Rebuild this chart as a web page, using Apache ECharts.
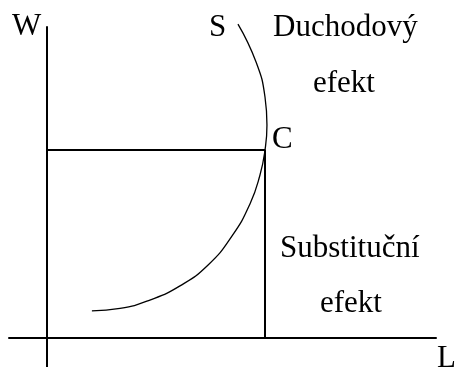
<!DOCTYPE html>
<html>
<head>
<meta charset="utf-8">
<script src="https://cdn.jsdelivr.net/npm/echarts@6/dist/echarts.min.js"></script>
<style>
  html, body { margin: 0; padding: 0; background: #fff; }
  #chart { width: 456px; height: 367px; }
</style>
</head>
<body>
<div id="chart"></div>
<script>
// Nabídka práce S (zpětně zakřivená) – body
const supplyL = [20.6, 33.5, 47.2, 61.0, 73.9, 84.9, 93.1, 97.7, 100, 100.9, 100, 95.9, 87.6];
const supplyW = [14.4, 15.7, 20.2, 27.7, 38.8, 54.3, 71.3, 86.7, 100, 113.3, 128.2, 146.8, 167.0];
// bod C
const pointC = [100, 100];
// popisky
const axisNames = ['W', 'L'];
const curveName = 'S';
const pointName = 'C';
const incomeEffect = ['Duchodový', 'efekt'];
const substEffect = ['Substituční', 'efekt'];

const chart = echarts.init(document.getElementById('chart'));

const curveData = supplyL.map((l, i) => [l, supplyW[i]]);
const guideData = [[0, pointC[1]], [pointC[0], pointC[1]], [pointC[0], 0]];

const font = '31px "Liberation Serif", "Times New Roman", serif';
function label(text, x, y) {
  return {
    type: 'text',
    style: { text: text, x: x, y: y, font: font, fill: '#000', verticalAlign: 'middle' },
    silent: true
  };
}

const option = {
  animation: false,
  backgroundColor: '#fff',
  grid: { left: 9, right: 20, top: 27, bottom: 0 },
  xAxis: {
    type: 'value',
    min: -17.43,
    max: 178.44,
    axisLine: { show: true, onZero: true, lineStyle: { color: '#000', width: 2 } },
    axisTick: { show: false },
    axisLabel: { show: false },
    splitLine: { show: false }
  },
  yAxis: {
    type: 'value',
    min: -15.43,
    max: 165.43,
    axisLine: { show: true, onZero: true, lineStyle: { color: '#000', width: 2 } },
    axisTick: { show: false },
    axisLabel: { show: false },
    splitLine: { show: false }
  },
  series: [
    {
      type: 'line',
      data: guideData,
      symbol: 'none',
      lineStyle: { color: '#000', width: 2 },
      silent: true
    },
    {
      type: 'line',
      data: curveData,
      smooth: 0.5,
      symbol: 'none',
      clip: false,
      lineStyle: { color: '#000', width: 1.3 },
      silent: true
    }
  ],
  graphic: [
    label(axisNames[0], 12, 26.5),
    label(axisNames[1], 437, 359),
    label(curveName, 209, 27.5),
    label(pointName, 272, 139.5),
    label(incomeEffect[0], 273, 28),
    label(incomeEffect[1], 313, 83.5),
    label(substEffect[0], 280, 248.5),
    label(substEffect[1], 320, 303.5)
  ]
};

chart.setOption(option);
</script>
</body>
</html>
